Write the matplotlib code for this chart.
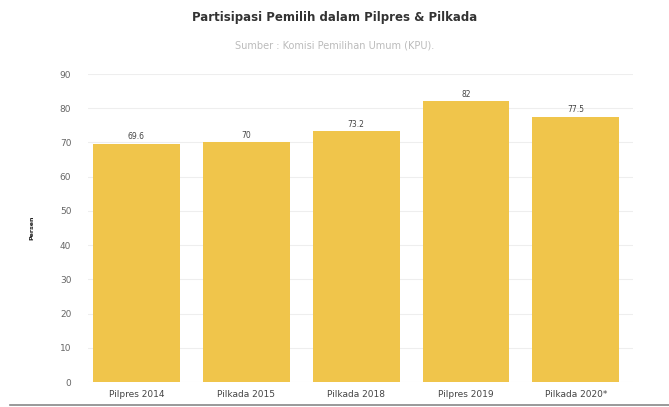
import matplotlib.pyplot as plt

categories = ["Pilpres 2014", "Pilkada 2015", "Pilkada 2018", "Pilpres 2019", "Pilkada 2020*"]
values = [69.6, 70, 73.2, 82, 77.5]
value_labels = ["69.6", "70", "73.2", "82", "77.5"]
yticks = [0, 10, 20, 30, 40, 50, 60, 70, 80, 90]

fig = plt.figure(figsize=(6.69, 4.07), dpi=100)
ax = fig.add_axes([88/669, 25/407, 545/669, 308/407])

x = list(range(len(categories)))
bars = ax.bar(x, values, width=0.79, color="#F0C54B", zorder=2)
for b, lab in zip(bars, value_labels):
    ax.text(b.get_x() + b.get_width()/2, b.get_height() + 0.8, lab,
            ha="center", va="bottom", fontsize=5.5, color="#444444")

ax.set_ylim(0, 90)
ax.set_xlim(-0.44, 4.52)
ax.set_yticks(yticks)
ax.set_yticklabels([str(t) for t in yticks], fontsize=6.5, color="#666666")
ax.set_xticks(x)
ax.set_xticklabels(categories, fontsize=6.5, color="#444444")
ax.tick_params(axis="both", length=0)
ax.tick_params(axis="y", pad=12)
ax.tick_params(axis="x", pad=6)
ax.grid(axis="y", color="#EEEEEE", linewidth=0.8, zorder=0)
for s in ax.spines.values():
    s.set_visible(False)

ax.set_ylabel("Persen", fontsize=4.5, fontweight="bold", color="#222222", labelpad=18)

fig.text(0.5, 1 - 18/407, "Partisipasi Pemilih dalam Pilpres & Pilkada",
         ha="center", va="center", fontsize=8.5, fontweight="bold", color="#333333")
fig.text(0.5, 1 - 46/407, "Sumber : Komisi Pemilihan Umum (KPU).",
         ha="center", va="center", fontsize=7, color="#BBBBBB")

fig.add_artist(plt.Line2D([10/669, 1], [2.5/407, 2.5/407], color="#888888", linewidth=1.2))

fig.savefig("out.png", dpi=100)
